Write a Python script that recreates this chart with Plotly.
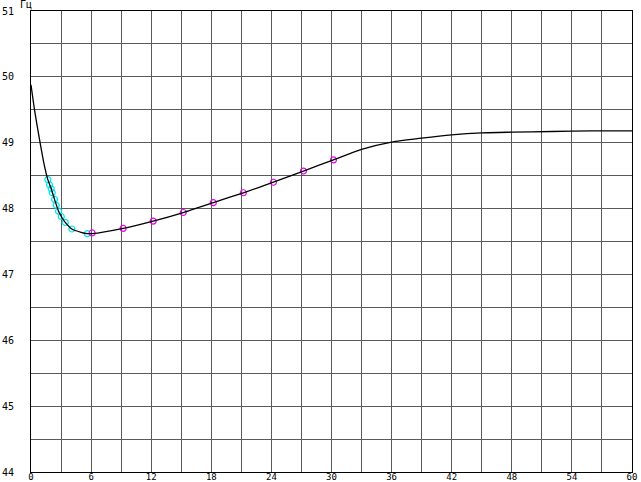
import plotly.graph_objects as go

# Curve (time, frequency)
curve_x = [0, 0.35, 0.85, 1.3, 1.68, 2.02, 2.35, 2.75, 3.02, 3.42, 4.08, 5.0, 5.62, 6.1,
           9.2, 12.2, 15.2, 18.2, 21.2, 24.2, 27.2, 30.2, 33, 36, 39, 42, 45, 48, 52, 56, 60]
curve_y = [49.88, 49.50, 49.05, 48.68, 48.44, 48.30, 48.14, 47.96, 47.88, 47.79, 47.69, 47.64, 47.62, 47.62,
           47.70, 47.81, 47.94, 48.09, 48.24, 48.40, 48.57, 48.74, 48.90, 49.01, 49.07, 49.12, 49.15, 49.16, 49.17, 49.18, 49.18]

# Cyan markers
cyan_x = [1.68, 1.85, 2.02, 2.12, 2.35, 2.52, 2.75, 3.02, 3.42, 4.08, 5.62]
cyan_y = [48.44, 48.36, 48.30, 48.24, 48.14, 48.05, 47.96, 47.88, 47.79, 47.69, 47.62]

# Magenta markers
mag_x = [6.1, 9.2, 12.2, 15.2, 18.2, 21.2, 24.2, 27.2, 30.2]
mag_y = [47.63, 47.70, 47.81, 47.94, 48.09, 48.24, 48.40, 48.57, 48.74]

x_tickvals = [0, 6, 12, 18, 24, 30, 36, 42, 48, 54, 60]
x_ticktext = ["0", "6", "12", "18", "24", "30", "36", "42", "48", "54", "60"]
y_tickvals = [44, 45, 46, 47, 48, 49, 50, 51]
y_ticktext = ["44", "45", "46", "47", "48", "49", "50", "51"]
unit_label = "Гц"

fig = go.Figure()
fig.add_trace(go.Scatter(x=cyan_x, y=cyan_y, mode="markers",
                         marker=dict(symbol="circle-open", size=6, color="#00e5ee", line=dict(width=1.2)),
                         showlegend=False, hoverinfo="skip"))
fig.add_trace(go.Scatter(x=mag_x, y=mag_y, mode="markers",
                         marker=dict(symbol="circle-open", size=6, color="#ee00ee", line=dict(width=1.2)),
                         showlegend=False, hoverinfo="skip"))
fig.add_trace(go.Scatter(x=curve_x, y=curve_y, mode="lines",
                         line=dict(color="black", width=1.3, shape="spline", smoothing=0.6),
                         showlegend=False, hoverinfo="skip"))

font = dict(family="DejaVu Sans Mono", size=10, color="black")
xfont = dict(family="DejaVu Sans Mono", size=9, color="black")
fig.update_layout(
    width=641, height=482,
    margin=dict(l=31, r=9, t=11, b=10),
    paper_bgcolor="white", plot_bgcolor="white",
    font=font,
    xaxis=dict(range=[0, 60], tickvals=x_tickvals, ticktext=x_ticktext,
               showgrid=True, gridcolor="#5a5a5a", gridwidth=1,
               minor=dict(dtick=3, tick0=0, showgrid=True, gridcolor="#5a5a5a", gridwidth=1),
               showline=True, linecolor="black", linewidth=1, mirror=True,
               ticks="", ticklabelstandoff=-4, zeroline=False, tickfont=xfont, automargin=False),
    yaxis=dict(range=[44, 51], tickvals=y_tickvals, ticktext=y_ticktext,
               showgrid=True, gridcolor="#5a5a5a", gridwidth=1,
               minor=dict(dtick=0.5, tick0=44, showgrid=True, gridcolor="#5a5a5a", gridwidth=1),
               showline=True, linecolor="black", linewidth=1, mirror=True,
               ticks="", ticklabelstandoff=14, zeroline=False, tickfont=font, automargin=False),
    annotations=[dict(text=unit_label, xref="paper", yref="paper",
                      x=-5 / 600, y=1 + 6.5 / 460, xanchor="center", yanchor="middle",
                      showarrow=False, font=font)],
)
fig.write_html("out.html", config={"displayModeBar": False},
               post_script="document.body.style.margin='0';document.body.style.overflow='hidden';")
